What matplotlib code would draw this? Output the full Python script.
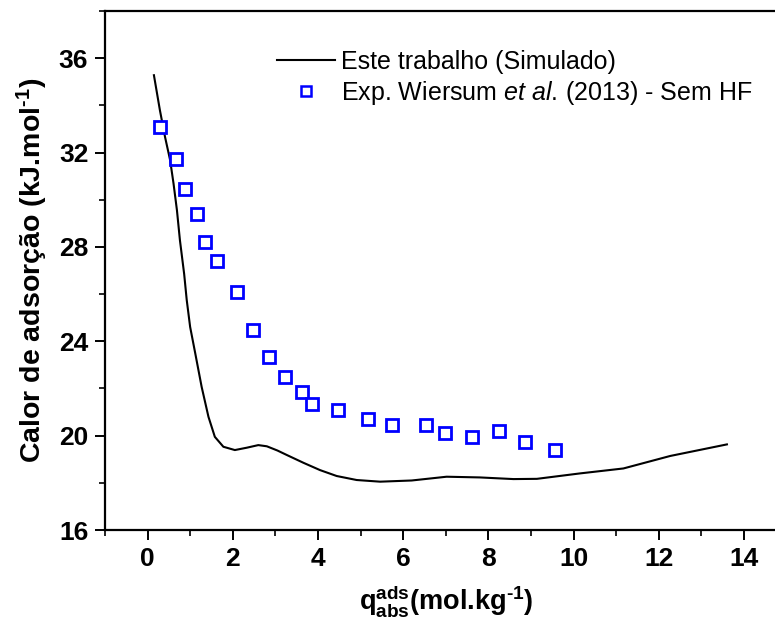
import matplotlib
matplotlib.use("Agg")
import matplotlib.pyplot as plt
from matplotlib.ticker import MultipleLocator

plt.rcParams['font.family'] = ['Liberation Sans', 'DejaVu Sans']
plt.rcParams['mathtext.fontset'] = 'custom'
plt.rcParams['mathtext.rm'] = 'Liberation Sans'
plt.rcParams['mathtext.it'] = 'Liberation Sans:italic'
plt.rcParams['mathtext.bf'] = 'Liberation Sans:bold'

# Simulated curve
sim_x = [0.15, 0.29, 0.41, 0.53, 0.61, 0.69, 0.76, 0.86, 0.92, 1.00, 1.12, 1.27,
         1.43, 1.58, 1.78, 2.05, 2.33, 2.60, 2.80, 3.05, 3.27, 3.66, 4.05, 4.44,
         4.91, 5.46, 6.20, 7.02, 7.80, 8.59, 9.14, 10.15, 11.17, 12.27, 13.60]
sim_y = [35.28, 33.8, 32.67, 31.68, 30.69, 29.56, 28.29, 26.85, 25.75, 24.61, 23.49,
         22.07, 20.8, 19.95, 19.53, 19.39, 19.49, 19.6, 19.55, 19.37, 19.18, 18.85,
         18.54, 18.29, 18.12, 18.05, 18.1, 18.26, 18.23, 18.16, 18.17, 18.4, 18.61,
         19.14, 19.63]

# Experimental data (Wiersum et al. 2013)
exp_x = [0.29, 0.67, 0.88, 1.16, 1.35, 1.63, 2.10, 2.48, 2.85, 3.23, 3.63, 3.86,
         4.47, 5.18, 5.73, 6.53, 6.98, 7.62, 8.24, 8.85, 9.56]
exp_y = [33.08, 31.72, 30.45, 29.39, 28.2, 27.4, 26.08, 24.47, 23.33, 22.48, 21.85,
         21.34, 21.08, 20.7, 20.45, 20.45, 20.1, 19.93, 20.2, 19.74, 19.39]

x_ticks = [0, 2, 4, 6, 8, 10, 12, 14]
y_ticks = [16, 20, 24, 28, 32, 36]

fig = plt.figure(figsize=(7.75, 6.28), dpi=100)
ax = fig.add_axes([0.1354, 0.156, 0.8795, 0.8264])

ax.plot(sim_x, sim_y, color='black', lw=1.5, label='Este trabalho (Simulado)')
ax.plot(exp_x, exp_y, ls='none', marker='s', ms=9, mfc='white', mec='#0000ff',
        mew=2.0, label='Exp. Wiersum $\\it{et\\ al.}\\,$(2013) - Sem HF')

ax.set_xlim(-1, 15)
ax.set_ylim(16, 38)
ax.set_xticks(x_ticks)
ax.set_yticks(y_ticks)
ax.xaxis.set_minor_locator(MultipleLocator(1))
ax.yaxis.set_minor_locator(MultipleLocator(2))

for s in ['left', 'bottom', 'top']:
    ax.spines[s].set_linewidth(1.6)
ax.spines['right'].set_visible(False)

ax.tick_params(which='major', direction='out', length=7, width=1.4,
               labelsize=19, pad=5)
ax.tick_params(which='minor', direction='out', length=4, width=1.2)
ax.tick_params(top=False, right=False, which='both')
for lab in ax.get_xticklabels() + ax.get_yticklabels():
    lab.set_fontweight('bold')

ax.set_ylabel('Calor de adsorção (kJ.mol$^{\\mathbf{\u2010}\\mathbf{1}}$)', fontsize=20.5,
              fontweight='bold', labelpad=6)
ax.set_xlabel('q$_{\\mathbf{abs}}^{\\mathbf{ads}}$(mol.kg$^{\\mathbf{\u2010}\\mathbf{1}}$)',
              fontsize=19.5, fontweight='bold', labelpad=9)

leg = ax.legend(loc='upper left', bbox_to_anchor=(0.2525, 0.925), frameon=False,
                fontsize=18, handlelength=2.3, handletextpad=0.25, labelspacing=0.2,
                borderpad=0, borderaxespad=0)
leg.legend_handles[1].set_markersize(6.5)
leg.legend_handles[1].set_markeredgewidth(1.8)

fig.savefig('out.png', dpi=100)
